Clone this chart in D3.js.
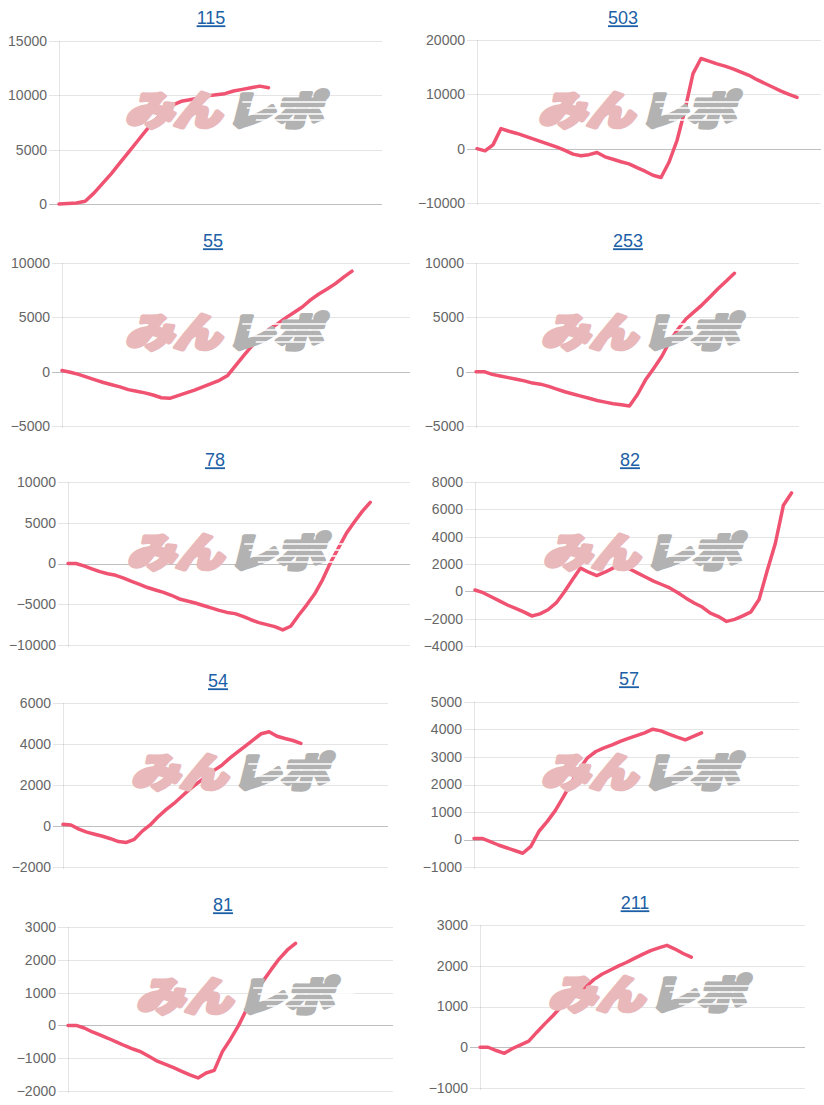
<!DOCTYPE html>
<meta charset="utf-8">
<style>
  body { margin: 0; background: #fff; }
  .title { font-family: "Liberation Sans", Arial, sans-serif; font-size: 18px; fill: #1d5fa6; text-decoration: underline; }
  .tick text { font-family: "Liberation Sans", Arial, sans-serif; font-size: 14px; fill: #666; }
</style>
<body></body>
<script src="https://d3js.org/d3.v7.min.js"></script>
<script>

const width = 824, height = 1105;

// machine numbers (chart titles)
const titles = ["115", "503", "55", "253", "78", "82", "54", "57", "81", "211"];

// y axis range and step of each chart
const yMin  = [0, -10000, -5000, -5000, -10000, -4000, -2000, -1000, -2000, -1000];
const yMax  = [15000, 20000, 10000, 10000, 10000, 8000, 6000, 5000, 3000, 3000];
const yStep = [5000, 10000, 5000, 5000, 5000, 2000, 2000, 1000, 1000, 1000];

// number of x slots on each chart (data stops before the end)
const slots = [37, 43, 42, 40, 43, 43, 41, 40, 40, 40];

// difference values
const s115 = [0, 50, 100, 250, 1000, 1900, 2800, 3800, 4800, 5800, 6800, 7700, 8500, 9100, 9450,
  9600, 9750, 9950, 10050, 10150, 10400, 10550, 10700, 10850, 10700];
const s503 = [0, -400, 700, 3700, 3200, 2800, 2300, 1800, 1300, 800, 300, -300, -1000, -1300, -1100,
  -700, -1500, -1950, -2400, -2800, -3500, -4150, -4900, -5300, -2500, 1500, 7200, 13800, 16600,
  16100, 15600, 15200, 14700, 14100, 13500, 12700, 12000, 11300, 10600, 10000, 9450];
const s55 = [100, -50, -250, -500, -750, -1000, -1200, -1400, -1650, -1800, -1950, -2150, -2400, -2450,
  -2200, -1950, -1700, -1400, -1100, -800, -350, 600, 1550, 2450, 3200, 3900, 4400, 4950, 5450,
  5950, 6600, 7150, 7600, 8100, 8700, 9250];
const s253 = [0, 0, -250, -400, -550, -700, -850, -1050, -1150, -1350, -1600, -1850, -2050, -2250,
  -2450, -2650, -2800, -2950, -3050, -3150, -2100, -750, 300, 1400, 2800, 3900, 4850, 5500, 6150,
  6900, 7650, 8350, 9050];
const s78 = [0, 0, -300, -650, -1000, -1250, -1450, -1800, -2200, -2550, -2950, -3250, -3550, -3900,
  -4350, -4600, -4850, -5150, -5450, -5750, -6000, -6150, -6500, -6900, -7250, -7500, -7750, -8150,
  -7700, -6350, -5100, -3750, -2000, 100, 1900, 3700, 5100, 6400, 7500];
const s82 = [100, -100, -400, -700, -1000, -1250, -1500, -1800, -1650, -1350, -850, -50, 850, 1700,
  1400, 1150, 1400, 1700, 1950, 1650, 1350, 1050, 750, 500, 250, -100, -500, -850, -1150, -1600,
  -1850, -2200, -2050, -1800, -1500, -600, 1500, 3500, 6300, 7200];
const s54 = [80, 50, -150, -300, -400, -500, -620, -760, -800, -650, -250, 50, 450, 800, 1100, 1450,
  1800, 2100, 2400, 2700, 2950, 3300, 3600, 3900, 4200, 4500, 4600, 4380, 4270, 4170, 4030];
const s57 = [40, 40, -80, -200, -300, -400, -500, -250, 300, 650, 1050, 1550, 2080, 2580, 2980, 3200,
  3330, 3440, 3570, 3680, 3780, 3880, 4010, 3950, 3830, 3720, 3620, 3750, 3880];
const s81 = [0, 0, -80, -200, -300, -400, -510, -620, -720, -810, -950, -1090, -1190, -1290, -1400,
  -1510, -1600, -1450, -1370, -800, -420, 0, 500, 1050, 1350, 1700, 2030, 2300, 2500];
const s211 = [0, 0, -80, -150, -30, 60, 150, 370, 580, 780, 1000, 1250, 1350, 1480, 1660, 1790, 1890,
  1990, 2080, 2180, 2280, 2370, 2440, 2500, 2410, 2300, 2210];

const series = [s115, s503, s55, s253, s78, s82, s54, s57, s81, s211];

// page layout of each chart: plot box, title and watermark centre
const boxes = [
  {l: 59,  r: 382, t: 41,  b: 204,  tx: 211, ty: 18,  wx: 232, wy: 111},
  {l: 477, r: 821, t: 40,  b: 203,  tx: 623, ty: 18,  wx: 645, wy: 111},
  {l: 62,  r: 410, t: 263, b: 426,  tx: 213, ty: 241, wx: 232, wy: 333},
  {l: 476, r: 799, t: 263, b: 426,  tx: 628, ty: 241, wx: 648, wy: 333},
  {l: 68,  r: 410, t: 482, b: 645,  tx: 215, ty: 460, wx: 234, wy: 553},
  {l: 475, r: 824, t: 482, b: 646,  tx: 630, ty: 460, wx: 650, wy: 553},
  {l: 63,  r: 388, t: 703, b: 867,  tx: 218, ty: 681, wx: 238, wy: 773},
  {l: 474, r: 799, t: 702, b: 867,  tx: 629, ty: 679, wx: 648, wy: 773},
  {l: 68,  r: 393, t: 927, b: 1091, tx: 223, ty: 905, wx: 243, wy: 997},
  {l: 480, r: 805, t: 925, b: 1088, tx: 635, ty: 903, wx: 655, wy: 995}
];

const svg = d3.select("body").append("svg")
    .attr("width", width)
    .attr("height", height);

series.forEach((data, k) => {
  const box = boxes[k];
  const w = box.r - box.l, h = box.b - box.t;

  const x = d3.scaleLinear().domain([0, slots[k]]).range([0, w]);
  const y = d3.scaleLinear().domain([yMin[k], yMax[k]]).range([h, 0]);
  const ticks = d3.range(yMin[k], yMax[k] + yStep[k] / 2, yStep[k]);

  svg.append("text")
      .attr("class", "title")
      .attr("x", box.tx)
      .attr("y", box.ty)
      .attr("dy", "0.35em")
      .attr("text-anchor", "middle")
      .text(titles[k]);

  const g = svg.append("g")
      .attr("transform", `translate(${box.l},${box.t})`);

  // gridlines with small tick marks left of the axis
  g.append("g")
    .selectAll("line")
    .data(ticks)
    .join("line")
      .attr("x1", -10)
      .attr("x2", w)
      .attr("y1", d => Math.round(y(d)) + 0.5)
      .attr("y2", d => Math.round(y(d)) + 0.5)
      .attr("stroke", d => d === 0 ? "rgba(0,0,0,0.25)" : "rgba(0,0,0,0.1)");

  g.append("line")
      .attr("x1", 0.5).attr("x2", 0.5)
      .attr("y1", 0).attr("y2", h + 2)
      .attr("stroke", "rgba(0,0,0,0.1)");

  g.append("g")
      .call(d3.axisLeft(y).tickValues(ticks).tickSize(0).tickPadding(12).tickFormat(d3.format("d")))
      .call(a => a.select(".domain").remove());

  // watermark
  const wm = svg.append("g")
      .attr("transform", `translate(${box.wx},${box.wy}) skewX(-14)`)
      .attr("font-family", "'Noto Sans CJK JP', sans-serif")
      .attr("font-weight", 900)
      .attr("font-size", 40)
      .attr("stroke-width", 4)
      .attr("stroke-linejoin", "round");
  wm.append("text")
      .attr("x", -6)
      .attr("y", 14)
      .attr("text-anchor", "end")
      .attr("transform", "scale(1.2,1)")
      .attr("fill", "rgb(233,184,186)")
      .attr("stroke", "rgb(233,184,186)")
      .text("みん");
  wm.append("text")
      .attr("x", -2)
      .attr("y", 14)
      .attr("text-anchor", "start")
      .attr("transform", "scale(1.2,1)")
      .attr("fill", "rgb(178,178,178)")
      .attr("stroke", "rgb(178,178,178)")
      .text("レポ");
  wm.append("g")
      .attr("stroke", "#fff")
      .attr("stroke-width", 1.6)
    .selectAll("line")
    .data([-9, -3, 3, 9])
    .join("line")
      .attr("x1", (d, i) => 8 + i * 6)
      .attr("x2", 110)
      .attr("y1", d => d)
      .attr("y2", d => d);

  const line = d3.line()
      .x((d, i) => x(i))
      .y(d => y(d));

  g.append("path")
      .datum(data)
      .attr("fill", "none")
      .attr("stroke", "#ef5371")
      .attr("stroke-width", 3.5)
      .attr("stroke-linejoin", "round")
      .attr("stroke-linecap", "round")
      .attr("d", line);
});

</script>
